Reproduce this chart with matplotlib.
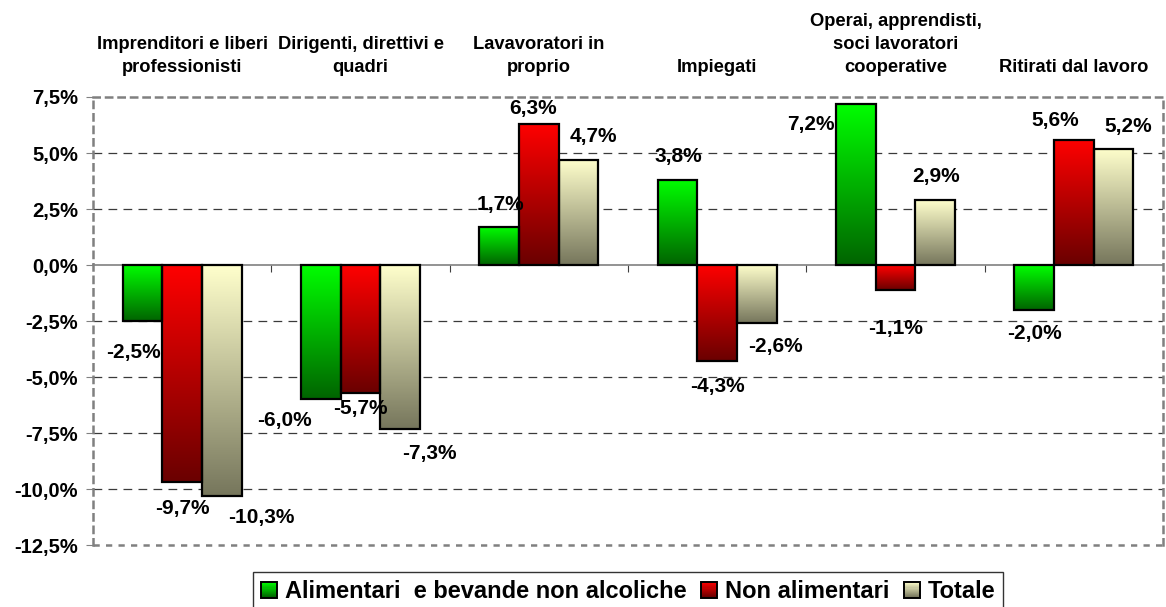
import numpy as np
import matplotlib
matplotlib.use('Agg')
import matplotlib.pyplot as plt
from matplotlib.colors import LinearSegmentedColormap
from matplotlib.legend_handler import HandlerBase
from matplotlib.patches import Rectangle
from matplotlib.ticker import FuncFormatter, MultipleLocator

plt.rcParams['font.family'] = ['Liberation Sans', 'DejaVu Sans']
plt.rcParams['font.weight'] = 'bold'

# Dati
categorie = ['Imprenditori e liberi\nprofessionisti',
             'Dirigenti, direttivi e\nquadri',
             'Lavavoratori in\nproprio',
             'Impiegati',
             'Operai, apprendisti,\nsoci lavoratori\ncooperative',
             'Ritirati dal lavoro']
serie = ['Alimentari  e bevande non alcoliche', 'Non alimentari', 'Totale']
alimentari = [-2.5, -6.0, 1.7, 3.8, 7.2, -2.0]
non_alimentari = [-9.7, -5.7, 6.3, -4.3, -1.1, 5.6]
totale = [-10.3, -7.3, 4.7, -2.6, 2.9, 5.2]
valori = [alimentari, non_alimentari, totale]

# colori (alto, basso) del gradiente
colori = [('#00ff00', '#006400'), ('#ff0000', '#6a0000'), ('#ffffcc', '#76765c')]

# spostamento etichette (pixel) rispetto alla fine della barra
spost = [
    [(-9, -31), (-36, -21), (1, 22), (1, 23), (-45, -21), (0, -24)],
    [(0, -26), (0, -16), (-6, 15), (0, -25), (0, -39), (-19, 19)],
    [(39, -22), (29, -25), (15, 23), (19, -23), (1, 24), (15, 22)],
]


class GradHandler(HandlerBase):
    def __init__(self, alto, basso):
        super().__init__()
        self.cmap = LinearSegmentedColormap.from_list('g', [basso, alto])

    def create_artists(self, legend, orig_handle, xdescent, ydescent,
                       width, height, fontsize, trans):
        n = 14
        out = []
        for i in range(n):
            out.append(Rectangle((-xdescent, -ydescent + height * i / n), width, height / n + 0.2,
                                 facecolor=self.cmap((i + 0.5) / n), edgecolor='none',
                                 transform=trans))
        out.append(Rectangle((-xdescent, -ydescent), width, height, facecolor='none',
                             edgecolor='black', lw=1.4, transform=trans))
        return out


fig = plt.figure(figsize=(11.66, 6.07), dpi=100)
ax = fig.add_axes([0.0798, 0.1021, 0.9176, 0.7381])

x = np.arange(len(categorie))
w = 0.223
grad = np.linspace(0, 1, 256).reshape(-1, 1)
contenitori = []
for k, (vals, (alto, basso)) in enumerate(zip(valori, colori)):
    cmap = LinearSegmentedColormap.from_list('c%d' % k, [basso, alto])
    bars = ax.bar(x + (k - 1) * w, vals, w, facecolor='none', edgecolor='black',
                  lw=1.6, zorder=4)
    contenitori.append(bars)
    for r, v, (dx, dy) in zip(bars, vals, spost[k]):
        x0, y0, bw, bh = r.get_x(), r.get_y(), r.get_width(), r.get_height()
        ax.imshow(grad, extent=(x0, x0 + bw, min(y0, y0 + bh), max(y0, y0 + bh)),
                  cmap=cmap, aspect='auto', origin='lower', zorder=3)
        ax.annotate(('%.1f%%' % v).replace('.', ','), (x0 + bw / 2, y0 + bh),
                    xytext=(dx, dy), textcoords='offset pixels',
                    ha='center', va='center', fontsize=15, fontweight='bold', zorder=6)

ax.set_xlim(-0.5, len(categorie) - 0.5)
ax.set_ylim(-12.5, 7.5)
ax.yaxis.set_major_locator(MultipleLocator(2.5))
ax.yaxis.set_major_formatter(FuncFormatter(lambda v, p: ('%.1f%%' % v).replace('.', ',')))
ax.tick_params(axis='y', labelsize=14.5, length=5, color='#808080', pad=6)
for t in ax.get_yticklabels():
    t.set_fontweight('bold')

# griglia interna
for v in np.arange(-10, 7.5, 2.5):
    if abs(v) > 1e-9:
        ax.axhline(v, color='#3a3a3a', lw=0.9, ls=(0, (7, 5)), zorder=1)

# asse x sullo zero
ax.spines['bottom'].set_position(('data', 0))
ax.spines['bottom'].set_color('#808080')
ax.spines['bottom'].set_linewidth(1.2)
ax.set_xticks(x[:-1] + 0.5)
ax.set_xticklabels([])
ax.tick_params(axis='x', length=5, color='#404040', direction='out')

# bordo area tracciato tratteggiato
for s in ['left', 'top', 'right']:
    ax.spines[s].set_color('#808080')
    ax.spines[s].set_linewidth(1.8)
    ax.spines[s].set_linestyle((0, (2.5, 2.5)))
ax.axhline(-12.5, color='#808080', lw=1.8, ls=(0, (2.5, 2.5)), clip_on=False, zorder=2)

# etichette categorie sopra il grafico
for xi, c in zip(x, categorie):
    ax.annotate(c, (xi, 1), xycoords=('data', 'axes fraction'), xytext=(0, 21),
                textcoords='offset pixels', ha='center', va='bottom', fontsize=13.2,
                fontweight='bold', multialignment='center', linespacing=1.48,
                annotation_clip=False)

hmap = {b: GradHandler(a, bs) for b, (a, bs) in zip(contenitori, colori)}
leg = fig.legend(contenitori, serie, handler_map=hmap, loc='upper left',
                 bbox_to_anchor=(253 / 1166, 1 - 572 / 607), ncol=3, fontsize=17,
                 frameon=True, fancybox=False, edgecolor='black', borderpad=0.34,
                 handlelength=0.68, handleheight=0.65, handletextpad=0.34,
                 columnspacing=0.6, borderaxespad=0.0)
leg.get_frame().set_linewidth(1.0)
for t in leg.get_texts():
    t.set_fontweight('bold')

fig.savefig('out.png', dpi=100)
